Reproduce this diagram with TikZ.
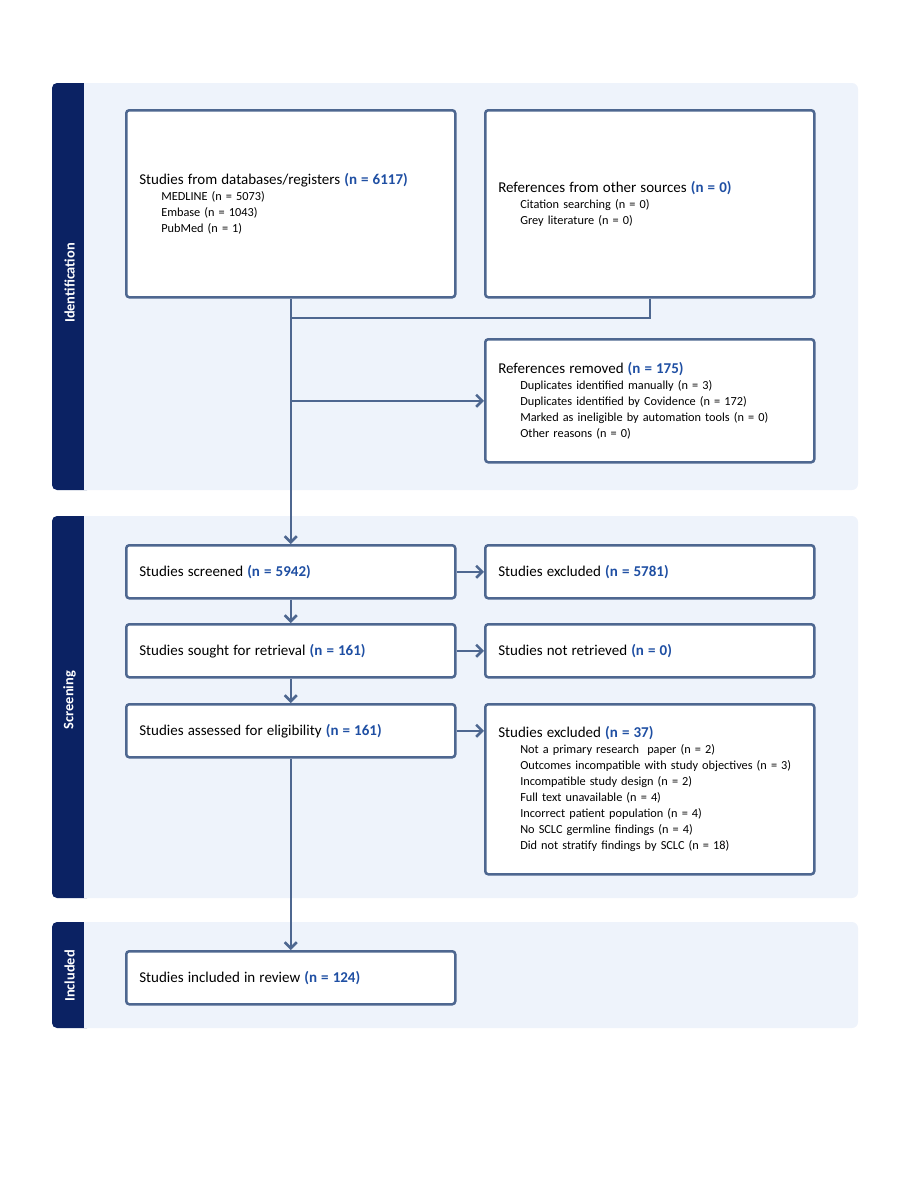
\documentclass[tikz,border=0pt]{standalone}
\usepackage{fontspec}
\setmainfont{Carlito}
\usetikzlibrary{arrows.meta}
\definecolor{linecol}{HTML}{4E6790}
\definecolor{navy}{HTML}{0B2263}
\definecolor{panel}{HTML}{EEF3FB}
\definecolor{nblue}{HTML}{1F4FA3}
\newcommand{\nval}[1]{\textbf{\color{nblue}#1}}
\newcommand{\head}[1]{{\fontsize{15}{16}\selectfont #1}}
\newcommand{\sub}{\hspace*{22pt}}
\begin{document}
\begin{tikzpicture}[x=1pt, y=-1pt,
  box/.style={draw=linecol, line width=2.5pt, rounded corners=3pt, fill=white, anchor=north west,
    minimum width=329pt, text width=303pt, inner xsep=13pt, inner ysep=0pt, align=left,
    font=\fontsize{12.3}{16}\selectfont},
  link/.style={draw=linecol, line width=2.5pt},
  arr/.style={link, -{Straight Barb[length=6pt, width=12pt, line width=2.5pt]}},
  phase/.style={text=white, rotate=90, font=\fontsize{14.4}{16}\selectfont\bfseries}]
\useasboundingbox (0,0) rectangle (900,1200);
% panels
\fill[panel, rounded corners=6pt] (52,83) rectangle (858,490);
\fill[navy, rounded corners=5pt] (52,83) rectangle (92,490);
\fill[panel] (84,83) rectangle (96,490);
\fill[panel, rounded corners=6pt] (52,516) rectangle (858,898);
\fill[navy, rounded corners=5pt] (52,516) rectangle (92,898);
\fill[panel] (84,516) rectangle (96,898);
\fill[panel, rounded corners=6pt] (52,922) rectangle (858,1028);
\fill[navy, rounded corners=5pt] (52,922) rectangle (92,1028);
\fill[panel] (84,922) rectangle (96,1028);
\node[phase] (idlab) at (69.5,283) {Identification};
\node[phase] (scrlab) at (69.5,700) {Screening};
\node[phase] (inclab) at (69.5,976) {Included};
% boxes
\node[box, minimum height=187pt] (db) at (125,109) {\head{Studies from databases/registers \nval{(n = 6117)}}\\
  \sub MEDLINE (n = 5073)\\ \sub Embase (n = 1043)\\ \sub PubMed (n = 1)};
\node[box, minimum height=187pt] (other) at (484,109) {\head{References from other sources \nval{(n = 0)}}\\
  \sub Citation searching (n = 0)\\ \sub Grey literature (n = 0)};
\node[box, minimum height=123pt] (removed) at (484,338) {\head{References removed \nval{(n = 175)}}\\
  \sub Duplicates identified manually (n = 3)\\ \sub Duplicates identified by Covidence (n = 172)\\
  \sub Marked as ineligible by automation tools (n = 0)\\ \sub Other reasons (n = 0)};
\node[box, minimum height=53pt] (screened) at (125,544) {\head{Studies screened \nval{(n = 5942)}}};
\node[box, minimum height=53pt] (excl) at (484,544) {\head{Studies excluded \nval{(n = 5781)}}};
\node[box, minimum height=53pt] (sought) at (125,623) {\head{Studies sought for retrieval \nval{(n = 161)}}};
\node[box, minimum height=53pt] (notret) at (484,623) {\head{Studies not retrieved \nval{(n = 0)}}};
\node[box, minimum height=53pt] (assessed) at (125,703) {\head{Studies assessed for eligibility \nval{(n = 161)}}};
\node[box, minimum height=170pt] (excl2) at (484,703) {\head{Studies excluded \nval{(n = 37)}}\\
  \sub Not a primary research~ paper (n = 2)\\ \sub Outcomes incompatible with study objectives (n = 3)\\
  \sub Incompatible study design (n = 2)\\ \sub Full text unavailable (n = 4)\\
  \sub Incorrect patient population (n = 4)\\ \sub No SCLC germline findings (n = 4)\\
  \sub Did not stratify findings by SCLC (n = 18)};
\node[box, minimum height=53pt] (incl) at (125,950) {\head{Studies included in review \nval{(n = 124)}}};
% connectors
\coordinate (join) at (db.south |- 0,318);
\coordinate (split) at (db.south |- removed.west);
\path[link] (other.south) |- (join);
\path[arr] (db.south) -- (screened.north);
\path[arr] (split) -- (removed.west);
\path[arr] (screened.east) -- (excl.west);
\path[arr] (sought.east) -- (notret.west);
\path[arr] (assessed.east) -- (excl2.west |- assessed.east);
\path[arr] (screened.south) -- (sought.north);
\path[arr] (sought.south) -- (assessed.north);
\path[arr] (assessed.south) -- (incl.north);
\end{tikzpicture}
\end{document}
